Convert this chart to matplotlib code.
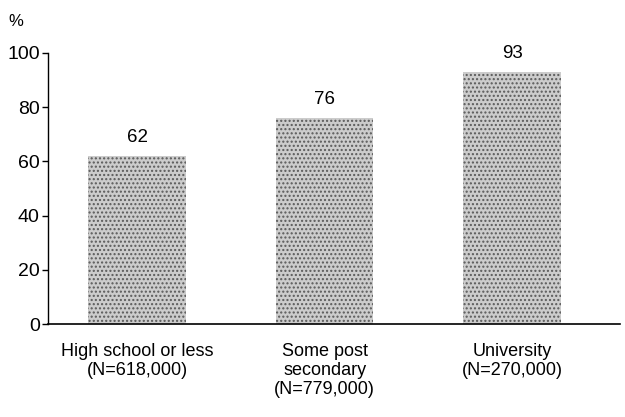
import numpy as np
import matplotlib.pyplot as plt

plt.rcParams['font.family'] = ['Liberation Sans', 'DejaVu Sans']

categories = ["High school or less\n(N=618,000)",
              "Some post\nsecondary\n(N=779,000)",
              "University\n(N=270,000)"]
values = [62, 76, 93]

fig = plt.figure(figsize=(6.25, 4.17), dpi=100)
ax = fig.add_axes([0.077, 0.223, 0.915, 0.650])

x = np.arange(len(values))
bars = ax.bar(x, values, width=0.52, color='#cccccc', edgecolor='#5a5a5a',
              hatch='....', linewidth=0)

for xi, v in zip(x, values):
    ax.annotate(str(v), (xi, v), xytext=(0, 7), textcoords='offset points',
                ha='center', va='bottom', fontsize=13.5)

ax.set_xlim(-0.475, 2.576)
ax.set_ylim(0, 100)
ax.set_yticks(range(0, 101, 20))
ax.tick_params(axis='y', labelsize=14, length=4, width=1, pad=2)
ax.set_xticks(x)
ax.set_xticklabels(categories, fontsize=13, linespacing=1.15)
ax.tick_params(axis='x', length=0, pad=14)

ax.spines['top'].set_visible(False)
ax.spines['right'].set_visible(False)
ax.spines['left'].set_linewidth(1)
ax.spines['bottom'].set_linewidth(1.2)

fig.text(0.026, 0.948, '%', fontsize=12, ha='center', va='center')

fig.savefig('out.png', dpi=100)
